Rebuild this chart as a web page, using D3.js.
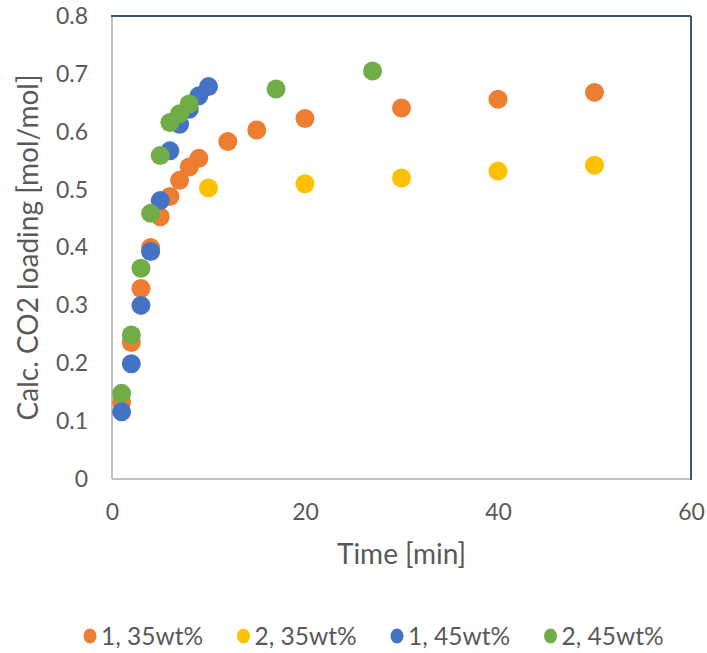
<!DOCTYPE html>
<html>
<head>
<meta charset="utf-8">
<script src="https://cdn.jsdelivr.net/npm/d3@7"></script>
<style>
  html, body { margin: 0; padding: 0; background: #fff; }
  svg { display: block; font-family: Lato, "Open Sans", sans-serif; }
</style>
</head>
<body>
<div id="chart"></div>
<script>
// Calc. CO2 loading vs time, four runs
const seriesNames = ['1, 35wt%', '2, 35wt%', '1, 45wt%', '2, 45wt%'];
const seriesColors = ['#ED7D31', '#FFC000', '#4472C4', '#70AD47'];

const time_1_35 = [1, 2, 3, 4, 5, 6, 7, 8, 9, 12, 15, 20, 30, 40, 50];
const load_1_35 = [0.133, 0.236, 0.329, 0.400, 0.453, 0.488, 0.516, 0.539, 0.554, 0.583, 0.603, 0.623, 0.641, 0.656, 0.668];

const time_2_35 = [10, 20, 30, 40, 50];
const load_2_35 = [0.503, 0.510, 0.520, 0.532, 0.542];

const time_1_45 = [1, 2, 3, 4, 5, 6, 7, 8, 9, 10];
const load_1_45 = [0.116, 0.199, 0.300, 0.393, 0.481, 0.567, 0.613, 0.639, 0.662, 0.678];

const time_2_45 = [1, 2, 3, 4, 5, 6, 7, 8, 17, 27];
const load_2_45 = [0.148, 0.249, 0.364, 0.459, 0.559, 0.616, 0.631, 0.648, 0.674, 0.705];

const xTicks = [0, 20, 40, 60];
const yTicks = [0, 0.1, 0.2, 0.3, 0.4, 0.5, 0.6, 0.7, 0.8];

const series = [
  { name: seriesNames[0], color: seriesColors[0], t: time_1_35, v: load_1_35 },
  { name: seriesNames[1], color: seriesColors[1], t: time_2_35, v: load_2_35 },
  { name: seriesNames[2], color: seriesColors[2], t: time_1_45, v: load_1_45 },
  { name: seriesNames[3], color: seriesColors[3], t: time_2_45, v: load_2_45 },
];

const W = 707, H = 653;
const margin = { top: 16, right: 16, bottom: 174, left: 112 };
const width = W - margin.left - margin.right;
const height = H - margin.top - margin.bottom;
const TEXT = '#595959';

const svg = d3.select('#chart').append('svg')
  .attr('width', W)
  .attr('height', H);

const g = svg.append('g').attr('transform', `translate(${margin.left},${margin.top})`);

const x = d3.scaleLinear().domain([0, 60]).range([0, width]);
const y = d3.scaleLinear().domain([0, 0.8]).range([height, 0]);

// plot area border: grey left/bottom, dark top/right
g.append('line').attr('x1', 0).attr('x2', 0).attr('y1', 0).attr('y2', height)
  .attr('stroke', '#bfbfbf').attr('stroke-width', 2);
g.append('line').attr('x1', 0).attr('x2', width).attr('y1', height).attr('y2', height)
  .attr('stroke', '#bfbfbf').attr('stroke-width', 2);
g.append('line').attr('x1', -1).attr('x2', width).attr('y1', 0).attr('y2', 0)
  .attr('stroke', '#44546A').attr('stroke-width', 2);
g.append('line').attr('x1', width).attr('x2', width).attr('y1', 0).attr('y2', height + 1)
  .attr('stroke', '#44546A').attr('stroke-width', 2);

// axes (labels only)
const xAxis = g.append('g')
  .attr('transform', `translate(0,${height})`)
  .call(d3.axisBottom(x).tickValues(xTicks).tickSize(0).tickPadding(25).tickFormat(d3.format('d')));
xAxis.select('.domain').remove();
xAxis.selectAll('text').attr('fill', TEXT).attr('font-size', 23).attr('font-family', 'Lato, sans-serif');

const yAxis = g.append('g')
  .call(d3.axisLeft(y).tickValues(yTicks).tickSize(0).tickPadding(24)
    .tickFormat(d => d === 0 ? '0' : d3.format('.1f')(d)));
yAxis.select('.domain').remove();
yAxis.selectAll('text').attr('fill', TEXT).attr('font-size', 23).attr('font-family', 'Lato, sans-serif');

// axis titles
svg.append('text')
  .attr('x', margin.left + width / 2)
  .attr('y', 564)
  .attr('text-anchor', 'middle')
  .attr('fill', TEXT)
  .attr('font-size', 28)
  .text('Time [min]');

svg.append('text')
  .attr('transform', `translate(38,${margin.top + height / 2}) rotate(-90)`)
  .attr('text-anchor', 'middle')
  .attr('fill', TEXT)
  .attr('font-size', 28)
  .text('Calc. CO2 loading [mol/mol]');

// markers
series.forEach(s => {
  g.append('g')
    .selectAll('circle')
    .data(s.t.map((t, i) => ({ t, v: s.v[i] })))
    .join('circle')
    .attr('cx', d => x(d.t))
    .attr('cy', d => y(d.v))
    .attr('r', 9.5)
    .attr('fill', s.color);
});

// legend
const legend = svg.append('g').attr('transform', 'translate(90,636)');
const stride = 153.5;
series.forEach((s, i) => {
  const item = legend.append('g').attr('transform', `translate(${i * stride},0)`);
  item.append('ellipse').attr('rx', 6.5).attr('ry', 7.5).attr('fill', s.color);
  item.append('text')
    .attr('x', 11)
    .attr('dy', '0.35em')
    .attr('fill', TEXT)
    .attr('font-size', 24.5)
    .text(s.name);
});
</script>
</body>
</html>
